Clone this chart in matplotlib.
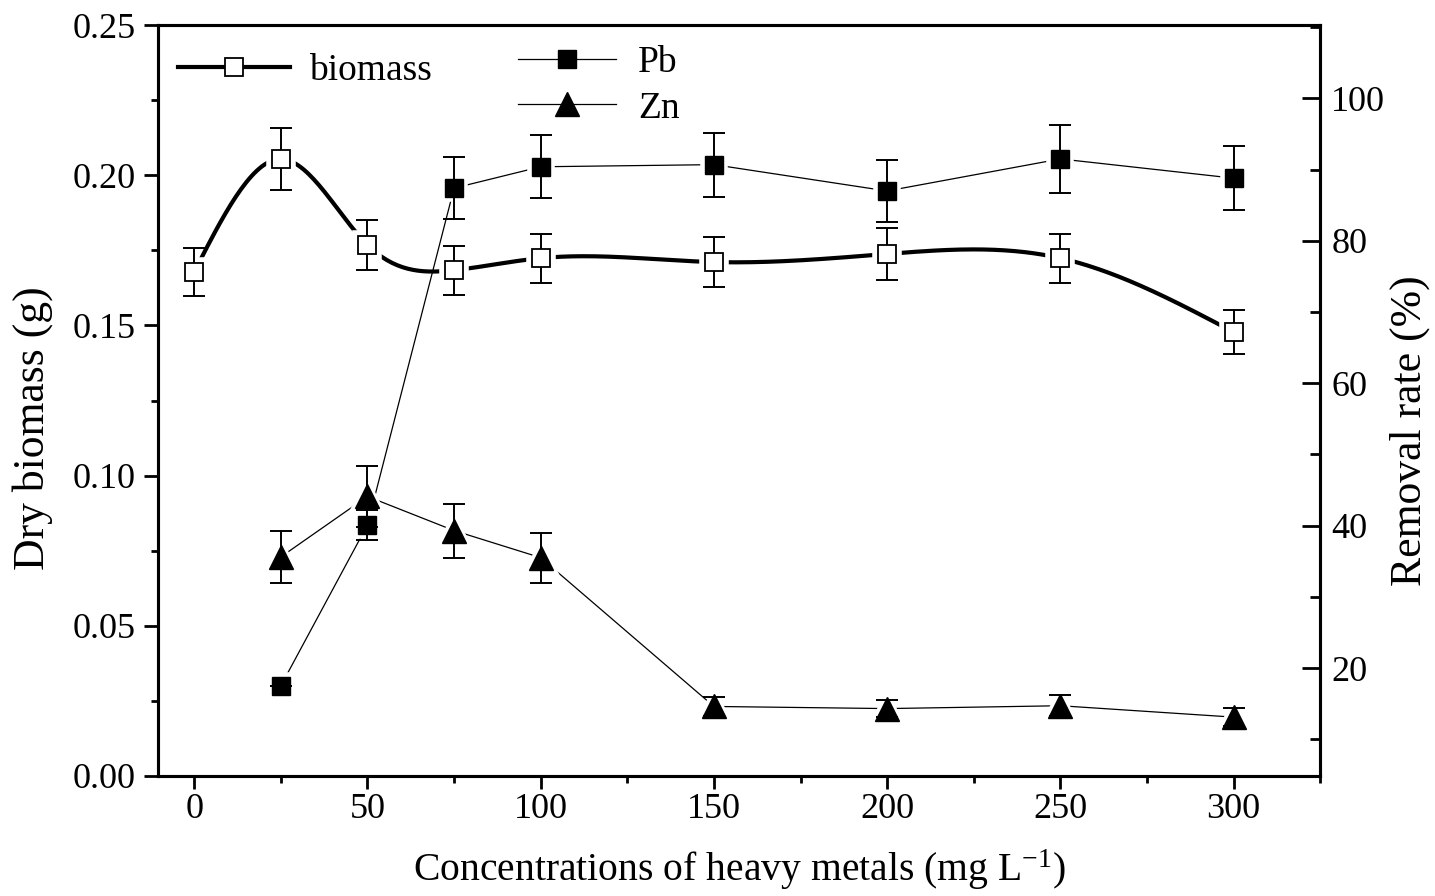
import numpy as np
import matplotlib
matplotlib.use("Agg")
import matplotlib.pyplot as plt
from matplotlib.ticker import MultipleLocator, FormatStrFormatter
from matplotlib.lines import Line2D

plt.rcParams['font.family'] = ['Liberation Serif', 'DejaVu Serif']
plt.rcParams['mathtext.fontset'] = 'custom'
plt.rcParams['mathtext.rm'] = 'Liberation Serif'
plt.rcParams['mathtext.it'] = 'Liberation Serif:italic'

# ---- data ----
conc = [0, 25, 50, 75, 100, 150, 200, 250, 300]
biomass = [0.1678, 0.2054, 0.1768, 0.1684, 0.1724, 0.1711, 0.1738, 0.1724, 0.1478]
biomass_err = [0.0080, 0.0102, 0.0083, 0.0082, 0.0082, 0.0083, 0.0087, 0.0082, 0.0072]

conc_m = [25, 50, 75, 100, 150, 200, 250, 300]
pb = [17.5, 40.1, 87.4, 90.4, 90.7, 87.0, 91.5, 88.8]
pb_err = [0.0, 2.1, 4.4, 4.4, 4.5, 4.3, 4.8, 4.5]
zn = [35.6, 44.1, 39.3, 35.5, 14.6, 14.3, 14.7, 13.1]
zn_err = [3.7, 4.3, 3.8, 3.5, 1.3, 1.2, 1.5, 1.3]


def natural_spline(x, y, n=400):
    x = np.asarray(x, float); y = np.asarray(y, float)
    k = len(x)
    h = np.diff(x)
    A = np.zeros((k, k)); b = np.zeros(k)
    A[0, 0] = 1; A[-1, -1] = 1
    for i in range(1, k - 1):
        A[i, i - 1] = h[i - 1]
        A[i, i] = 2 * (h[i - 1] + h[i])
        A[i, i + 1] = h[i]
        b[i] = 6 * ((y[i + 1] - y[i]) / h[i] - (y[i] - y[i - 1]) / h[i - 1])
    M = np.linalg.solve(A, b)
    xs = np.linspace(x[0], x[-1], n)
    idx = np.clip(np.searchsorted(x, xs) - 1, 0, k - 2)
    x0 = x[idx]; x1 = x[idx + 1]; hh = x1 - x0
    ys = (M[idx] * (x1 - xs) ** 3 / (6 * hh) + M[idx + 1] * (xs - x0) ** 3 / (6 * hh)
          + (y[idx] / hh - M[idx] * hh / 6) * (x1 - xs)
          + (y[idx + 1] / hh - M[idx + 1] * hh / 6) * (xs - x0))
    return xs, ys


fig = plt.figure(figsize=(14.35, 8.96), dpi=100)
ax = fig.add_axes([0.110, 0.134, 0.810, 0.838])
ax2 = ax.twinx()

# biomass (left axis)
xs, ys = natural_spline(conc, biomass)
ax.plot(xs, ys, color='black', lw=3.0, zorder=2, solid_capstyle='butt')
ax.plot(conc, biomass, ls='none', marker='s', ms=17, mfc='white', mec='white', mew=4, zorder=3)
ax.errorbar(conc, biomass, yerr=biomass_err, fmt='none', ecolor='black', elinewidth=1.4,
            capsize=8, capthick=1.4, zorder=4)
ax.plot(conc, biomass, ls='none', marker='s', ms=13, mfc='white', mec='black', mew=1.3, zorder=5)

# Pb and Zn (right axis)
ax2.plot(conc_m, pb, color='black', lw=0.9, zorder=2)
ax2.plot(conc_m, zn, color='black', lw=0.9, zorder=2)
ax2.plot(conc_m, pb, ls='none', marker='s', ms=16, mfc='white', mec='white', mew=4, zorder=3)
ax2.plot(conc_m, zn, ls='none', marker='^', ms=20, mfc='white', mec='white', mew=4, zorder=3)
ax2.errorbar(conc_m, pb, yerr=pb_err, fmt='none', ecolor='black', elinewidth=1.4,
             capsize=8, capthick=1.4, zorder=4)
ax2.errorbar(conc_m, zn, yerr=zn_err, fmt='none', ecolor='black', elinewidth=1.4,
             capsize=8, capthick=1.4, zorder=4)
ax2.plot(conc_m, pb, ls='none', marker='s', ms=13, mfc='black', mec='black', zorder=5)
ax2.plot(conc_m, zn, ls='none', marker='^', ms=17, mfc='black', mec='black', zorder=5)

# axes limits & ticks
ax.set_xlim(-10.5, 325)
ax.set_ylim(0, 0.25)
ax2.set_ylim(4.84, 110.3)
ax.xaxis.set_major_locator(MultipleLocator(50))
ax.xaxis.set_minor_locator(MultipleLocator(25))
ax.yaxis.set_major_locator(MultipleLocator(0.05))
ax.yaxis.set_minor_locator(MultipleLocator(0.025))
ax.yaxis.set_major_formatter(FormatStrFormatter('%.2f'))
ax2.yaxis.set_major_locator(MultipleLocator(20))
ax2.yaxis.set_minor_locator(MultipleLocator(10))

for a in (ax, ax2):
    for s in a.spines.values():
        s.set_linewidth(2.2)

ax.tick_params(axis='x', which='major', direction='out', length=9, width=2, labelsize=26, pad=3)
ax.tick_params(axis='x', which='minor', direction='out', length=5, width=2)
ax.tick_params(axis='y', which='major', direction='out', length=10, width=2, labelsize=26, pad=6)
ax.tick_params(axis='y', which='minor', direction='out', length=5, width=2)
ax2.tick_params(axis='y', which='major', direction='in', length=13, width=2, labelsize=26, pad=8)
ax2.tick_params(axis='y', which='minor', direction='in', length=7, width=2)

ax.set_xlabel('Concentrations of heavy metals (mg L$^{\\mathregular{-1}}$)', fontsize=28.5, va='center')
ax.xaxis.set_label_coords(0.5, -0.125)
ax.set_ylabel('Dry biomass (g)', fontsize=31.5, va='center')
ax.yaxis.set_label_coords(-0.108, 0.463)
ax2.set_ylabel('Removal rate (%)', fontsize=31.5, va='center', rotation=90)
ax2.yaxis.set_label_coords(1.077, 0.46)

# legends
h_bio = Line2D([], [], color='black', lw=3.0, marker='s', ms=13, mfc='white', mec='black', mew=1.3)
h_pb = Line2D([], [], color='black', lw=0.9, marker='s', ms=13, mfc='black', mec='black')
h_zn = Line2D([], [], color='black', lw=0.9, marker='^', ms=17, mfc='black', mec='black')
leg1 = ax2.legend([h_bio], ['biomass'], loc='upper left', bbox_to_anchor=(-0.012, 1.007),
                  frameon=False, fontsize=27, handlelength=3.0, handletextpad=0.5)
ax2.add_artist(leg1)
ax2.legend([h_pb, h_zn], ['Pb', 'Zn'], loc='upper left', bbox_to_anchor=(0.281, 1.018),
           frameon=False, fontsize=27, handlelength=2.6, handletextpad=0.6, labelspacing=0.3)

fig.savefig('out.png', dpi=100)
